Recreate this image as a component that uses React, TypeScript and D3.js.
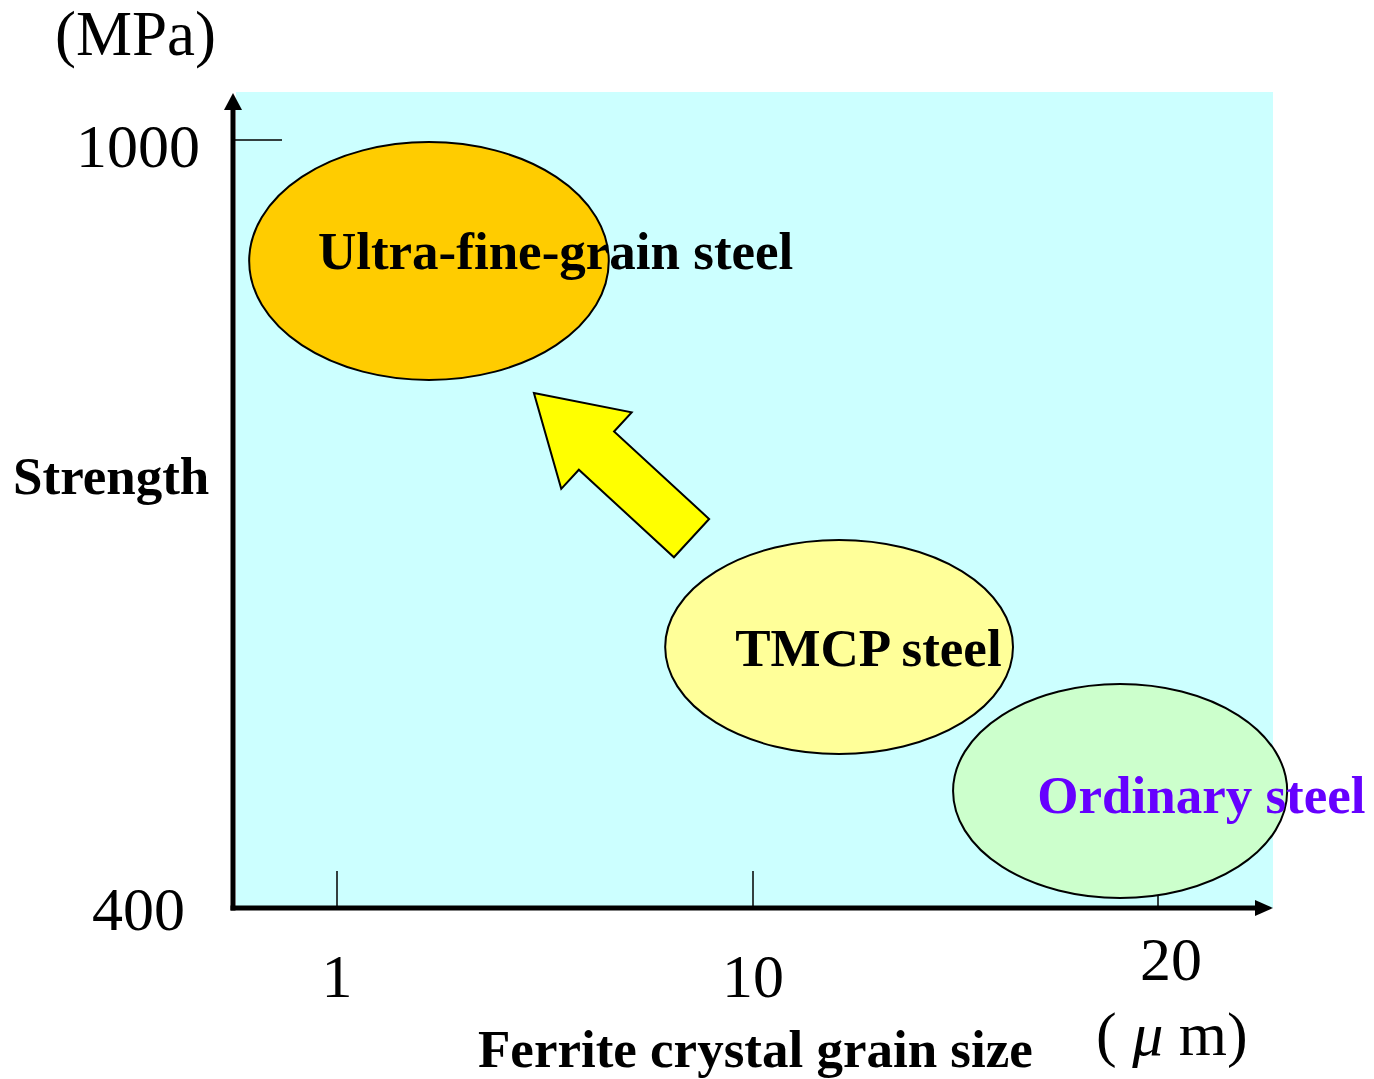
import React, { useMemo } from "react";
import * as d3 from "d3";

const WIDTH = 1374;
const HEIGHT = 1079;

// x axis tick labels (grain size, µm) and y axis tick labels (strength, MPa)
const xTicks = [1, 10, 20];
const yTicks = [400, 1000];

// steel groups: extents in grain size (µm) and strength (MPa)
const steelNames = ["Ultra-fine-grain steel", "TMCP steel", "Ordinary steel"];
const grainMin = [-0.9, 8.1, 14.94];
const grainMax = [6.88, 16.42, 23.19];
const strengthMin = [812.5, 520.3, 407.8];
const strengthMax = [998.4, 687.5, 575];
const fills = ["#FFCC00", "#FFFF99", "#CCFFCC"];
const labelColors = ["#000000", "#000000", "#6600FF"];
const labelGrain = [5.73, 12.85, 21.07];
const labelStrength = [899, 589, 474];

// improvement arrow: from TMCP toward ultra-fine-grain (grain size, strength)
const arrowFrom = [8.67, 689];
const arrowTo = [5.26, 802.3];

const FONT = "'Liberation Serif', 'Times New Roman', serif";

export default function App() {
  const x = useMemo(
    () => d3.scaleLinear().domain(xTicks).range([337, 753, 1158]),
    []
  );
  const y = useMemo(
    () => d3.scaleLinear().domain([400, 1000]).range([908, 140]),
    []
  );

  const arrowPath = useMemo(() => {
    const x0 = x(arrowFrom[0]);
    const y0 = y(arrowFrom[1]);
    const x1 = x(arrowTo[0]);
    const y1 = y(arrowTo[1]);
    const len = Math.hypot(x1 - x0, y1 - y0);
    const ux = (x1 - x0) / len;
    const uy = (y1 - y0) / len;
    const nx = -uy;
    const ny = ux;
    const shaftHalf = 26;
    const headHalf = 52;
    const headLen = 85;
    const bx = x1 - ux * headLen;
    const by = y1 - uy * headLen;
    const pts: [number, number][] = [
      [x1, y1],
      [bx + nx * headHalf, by + ny * headHalf],
      [bx + nx * shaftHalf, by + ny * shaftHalf],
      [x0 + nx * shaftHalf, y0 + ny * shaftHalf],
      [x0 - nx * shaftHalf, y0 - ny * shaftHalf],
      [bx - nx * shaftHalf, by - ny * shaftHalf],
      [bx - nx * headHalf, by - ny * headHalf],
    ];
    return d3.line()(pts) + "Z";
  }, [x, y]);

  const axisX = 233;
  const axisY = y(400);

  return (
    <svg
      width={WIDTH}
      height={HEIGHT}
      style={{ position: "absolute", left: 0, top: 0, background: "#fff" }}
      fontFamily={FONT}
    >
      <rect x={236} y={92} width={1273 - 236} height={axisY - 92} fill="#CCFFFF" />

      {/* ticks */}
      <line x1={axisX} x2={282} y1={y(1000)} y2={y(1000)} stroke="#000" strokeWidth={1.5} />
      {xTicks.map((t) => (
        <line key={t} x1={x(t)} x2={x(t)} y1={871} y2={axisY} stroke="#000" strokeWidth={1.5} />
      ))}

      {/* groups */}
      {steelNames.map((name, i) => {
        const x0 = x(grainMin[i]);
        const x1 = x(grainMax[i]);
        const y0 = y(strengthMax[i]);
        const y1 = y(strengthMin[i]);
        return (
          <ellipse
            key={name}
            cx={(x0 + x1) / 2}
            cy={(y0 + y1) / 2}
            rx={(x1 - x0) / 2}
            ry={(y1 - y0) / 2}
            fill={fills[i]}
            stroke="#000"
            strokeWidth={2}
          />
        );
      })}

      <path d={arrowPath} fill="#FFFF00" stroke="#000" strokeWidth={2} strokeLinejoin="miter" />

      {steelNames.map((name, i) => (
        <text
          key={name}
          x={x(labelGrain[i])}
          y={y(labelStrength[i])}
          fontSize={53}
          fontWeight="bold"
          fill={labelColors[i]}
          textAnchor="middle"
        >
          {name}
        </text>
      ))}

      {/* axes */}
      <line x1={axisX} x2={axisX} y1={axisY + 2.5} y2={108} stroke="#000" strokeWidth={5} />
      <path d={`M${axisX},93L${axisX - 9},110L${axisX + 9},110Z`} fill="#000" />
      <line x1={axisX - 2.5} x2={1257} y1={axisY} y2={axisY} stroke="#000" strokeWidth={5} />
      <path d={`M1273,${axisY}L1255,${axisY - 8}L1255,${axisY + 8}Z`} fill="#000" />

      {/* tick labels */}
      <text x={200} y={167} fontSize={62} textAnchor="end">{yTicks[1]}</text>
      <text x={185} y={930} fontSize={62} textAnchor="end">{yTicks[0]}</text>
      <text x={x(xTicks[0])} y={997} fontSize={62} textAnchor="middle">{xTicks[0]}</text>
      <text x={x(xTicks[1])} y={997} fontSize={62} textAnchor="middle">{xTicks[1]}</text>
      <text x={1171} y={980} fontSize={62} textAnchor="middle">{xTicks[2]}</text>

      {/* axis titles */}
      <text x={55} y={55} fontSize={63}>(MPa)</text>
      <text x={13} y={494} fontSize={53} fontWeight="bold">Strength</text>
      <text x={478} y={1067} fontSize={53} fontWeight="bold">Ferrite crystal grain size</text>
      <text x={1096} y={1055} fontSize={62}>
        ( <tspan fontStyle="italic">μ</tspan> m)
      </text>
    </svg>
  );
}
